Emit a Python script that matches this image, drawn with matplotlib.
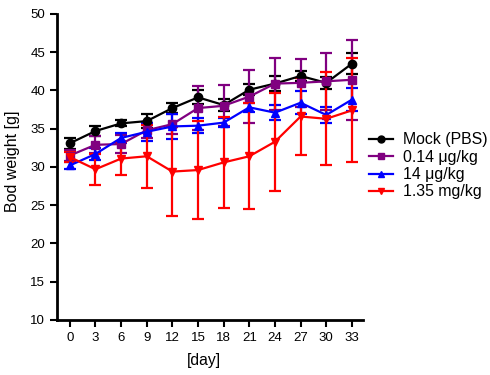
import matplotlib
matplotlib.use("Agg")
import matplotlib.pyplot as plt
from matplotlib.lines import Line2D

plt.rcParams['font.family'] = ['Liberation Sans', 'DejaVu Sans']

days = [0, 3, 6, 9, 12, 15, 18, 21, 24, 27, 30, 33]

mock = [33.1, 34.7, 35.7, 36.0, 37.7, 39.1, 38.1, 40.1, 40.9, 41.9, 41.0, 43.5]
mock_err = [0.7, 0.6, 0.4, 0.9, 0.7, 0.9, 0.8, 0.7, 1.0, 0.6, 0.8, 1.4]

low = [31.5, 32.9, 33.0, 34.8, 35.6, 37.7, 38.0, 39.2, 40.9, 41.0, 41.2, 41.4]
low_err = [0.7, 1.1, 1.2, 1.0, 1.3, 2.9, 2.7, 3.5, 3.4, 3.1, 3.7, 5.2]

mid = [30.2, 31.7, 33.8, 34.6, 35.3, 35.4, 35.8, 37.8, 37.1, 38.4, 36.8, 38.8]
mid_err = [0.5, 0.8, 0.7, 1.2, 1.6, 1.0, 0.6, 0.6, 1.0, 1.5, 1.1, 1.5]

high = [31.3, 29.7, 31.1, 31.4, 29.4, 29.6, 30.6, 31.4, 33.3, 36.6, 36.3, 37.4]
high_err = [0.7, 2.0, 2.2, 4.1, 5.8, 6.4, 5.9, 6.9, 6.4, 5.0, 6.1, 6.8]

labels = ['Mock (PBS)', '0.14 \u03bcg/kg', '14 \u03bcg/kg', '1.35 mg/kg']
colors = ['#000000', '#800080', '#0000FF', '#FF0000']
markers = ['o', 's', '^', 'v']

fig = plt.figure(figsize=(4.9, 3.75), dpi=100)
ax = fig.add_axes([0.1163, 0.1467, 0.6245, 0.816])

series = [(mock, mock_err), (low, low_err), (mid, mid_err), (high, high_err)]
for (vals, errs), lab, c, m in zip(series, labels, colors, markers):
    ax.errorbar(days, vals, yerr=errs, color=c, marker=m, markersize=6,
                linewidth=1.6, elinewidth=1.6, capsize=4, capthick=1.6,
                label=lab)

ax.set_xlim(-1.5, 34.3)
ax.set_ylim(10, 50)
ax.set_xticks(days)
ax.set_yticks(range(10, 51, 5))
for s in ['top', 'right']:
    ax.spines[s].set_visible(False)
for s in ['left', 'bottom']:
    ax.spines[s].set_linewidth(2)
ax.tick_params(axis='both', direction='out', length=5, width=1.5, labelsize=9.5)
ax.set_xlabel('[day]', fontsize=11.3)
ax.set_ylabel('Bod weight [g]', fontsize=11.5)
ax.xaxis.set_label_coords(0.48, -0.108)
ax.yaxis.set_label_coords(-0.122, 0.52)

leg_handles = [Line2D([0], [0], color=c, marker=m, markersize=5, linewidth=1.6)
               for c, m in zip(colors, markers)]
fig.legend(leg_handles, labels, loc='upper left', bbox_to_anchor=(0.724, 0.685),
           frameon=False, fontsize=11.4, handlelength=1.5, labelspacing=0.15,
           handletextpad=0.63)

fig.savefig('out.png', dpi=100)
